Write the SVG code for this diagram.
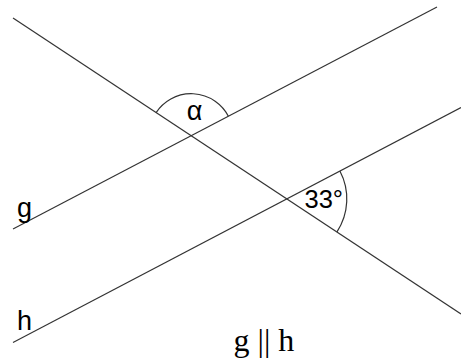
<svg xmlns="http://www.w3.org/2000/svg" width="461" height="362" viewBox="0 0 461 362">
  <style>
    .ln { stroke: #333333; stroke-width: 1.2; fill: none; stroke-linecap: butt; }
    .lbl { font-family: "Liberation Sans", Arial, sans-serif; fill: #000000; }
    .ser { font-family: "Liberation Serif", "Times New Roman", serif; fill: #000000; }
  </style>
  <rect width="461" height="362" fill="#ffffff"/>
  <g id="connectors">
    <line id="transversal" class="ln" x1="13" y1="18" x2="461" y2="314"/>
    <line id="line-g" class="ln" x1="13" y1="229" x2="437" y2="7"/>
    <line id="line-h" class="ln" x1="13" y1="342.5" x2="461" y2="107.5"/>
  </g>
  <g id="angle-alpha">
    <path class="ln" d="M156.1 112.6 A42 42 0 0 1 228.4 116.2"/>
    <text class="lbl" x="194.5" y="119.5" font-size="27" text-anchor="middle">α</text>
  </g>
  <g id="angle-33">
    <path class="ln" d="M339.9 171 A60 60 0 0 1 337 231.8"/>
    <text class="lbl" x="304.5" y="207.7" font-size="25.5">33°</text>
  </g>
  <g id="label-g">
    <text class="lbl" x="17" y="217" font-size="27">g</text>
  </g>
  <g id="label-h">
    <text class="lbl" x="17" y="330" font-size="27">h</text>
  </g>
  <g id="label-parallel">
    <text class="ser" x="233.5" y="350.5" font-size="32">g || h</text>
  </g>
</svg>
